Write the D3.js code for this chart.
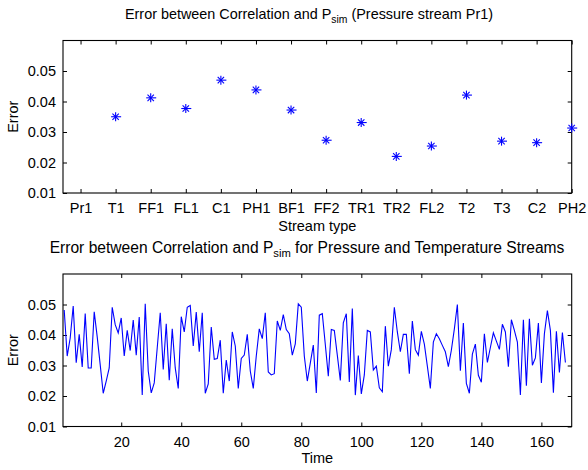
<!DOCTYPE html>
<html>
<head>
<meta charset="utf-8">
<script src="https://cdn.jsdelivr.net/npm/d3@7/dist/d3.min.js"></script>
<style>
  html, body { margin: 0; padding: 0; background: #fff; }
  svg { display: block; }
  text { font-family: "Liberation Sans", Arial, Helvetica, sans-serif; fill: #000; }
</style>
</head>
<body>
<svg id="chart" width="588" height="470"></svg>
<script>
// ---------- data ----------
const streamTypes = ["Pr1","T1","FF1","FL1","C1","PH1","BF1","FF2","TR1","TR2","FL2","T2","T3","C2","PH2"];
const streamError = [null,0.0350,0.0412,0.0377,0.0470,0.0438,0.0372,0.0273,0.0331,0.0220,0.0254,0.0421,0.0270,0.0265,0.0313];
const errorTicks = [0.01,0.02,0.03,0.04,0.05];
const timeTicks = [20,40,60,80,100,120,140,160];
const timeError = [
  0.0482,0.0331,0.0390,0.0495,0.0309,0.0402,0.0295,0.0470,0.0292,0.0292,
  0.0476,0.0394,0.0302,0.0209,0.0249,0.0292,0.0491,0.0434,0.0407,0.0456,
  0.0331,0.0415,0.0349,0.0449,0.0334,0.0459,0.0203,0.0502,0.0282,0.0210,
  0.0243,0.0358,0.0473,0.0287,0.0437,0.0252,0.0420,0.0292,0.0225,0.0460,
  0.0410,0.0491,0.0497,0.0364,0.0475,0.0345,0.0473,0.0209,0.0240,0.0426,
  0.0320,0.0323,0.0383,0.0209,0.0318,0.0249,0.0410,0.0364,0.0225,0.0323,
  0.0334,0.0402,0.0282,0.0225,0.0331,0.0420,0.0388,0.0473,0.0279,0.0269,
  0.0273,0.0446,0.0415,0.0467,0.0418,0.0404,0.0334,0.0371,0.0502,0.0491,
  0.0331,0.0249,0.0308,0.0367,0.0210,0.0465,0.0470,0.0369,0.0265,0.0418,
  0.0415,0.0334,0.0251,0.0440,0.0470,0.0246,0.0487,0.0203,0.0333,0.0207,
  0.0269,0.0415,0.0410,0.0285,0.0298,0.0227,0.0214,0.0429,0.0298,0.0352,
  0.0491,0.0410,0.0345,0.0402,0.0402,0.0273,0.0446,0.0352,0.0334,0.0412,
  0.0370,0.0298,0.0225,0.0377,0.0404,0.0388,0.0366,0.0345,0.0296,0.0350,
  0.0420,0.0500,0.0283,0.0439,0.0241,0.0209,0.0337,0.0370,0.0268,0.0245,
  0.0404,0.0310,0.0359,0.0407,0.0380,0.0353,0.0435,0.0410,0.0296,0.0450,
  0.0415,0.0377,0.0203,0.0450,0.0234,0.0453,0.0301,0.0325,0.0439,0.0243,
  0.0404,0.0480,0.0415,0.0211,0.0412,0.0277,0.0408,0.0310
];

// ---------- layout ----------
const svg = d3.select("#chart");
const L = 63, R = 571.7;
const FS = 14.5;
const blue = "#0000ff";

function frame(g, x, y, xTickVals, xFmt) {
  const [y0, y1] = y.range();
  const [x0, x1] = x.range();
  g.append("g").attr("transform", `translate(${x0},0)`)
    .call(d3.axisLeft(y).tickValues(errorTicks).tickFormat(d3.format(".2f")).tickSizeInner(-4).tickSizeOuter(0).tickPadding(7))
    .call(s => s.select(".domain").remove());
  g.append("g").attr("transform", `translate(${x1},0)`)
    .call(d3.axisRight(y).tickValues(errorTicks).tickFormat("").tickSizeInner(-4).tickSizeOuter(0))
    .call(s => s.select(".domain").remove());
  g.append("g").attr("transform", `translate(0,${y0})`)
    .call(d3.axisBottom(x).tickValues(xTickVals).tickFormat(xFmt).tickSizeInner(-4).tickSizeOuter(0).tickPadding(10))
    .call(s => s.select(".domain").remove());
  g.append("g").attr("transform", `translate(0,${y1})`)
    .call(d3.axisTop(x).tickValues(xTickVals).tickFormat("").tickSizeInner(-4).tickSizeOuter(0))
    .call(s => s.select(".domain").remove());
  g.selectAll(".tick line").attr("stroke", "#000").attr("stroke-width", 1);
  g.selectAll(".tick text").attr("font-size", FS).attr("font-family", "Liberation Sans, Arial, sans-serif").attr("fill", "#000");
  g.append("rect").attr("x", x0).attr("y", y1).attr("width", x1 - x0).attr("height", y0 - y1)
    .attr("fill", "none").attr("stroke", "#000").attr("stroke-width", 1.1);
}

function title(textSel, size, before, after) {
  textSel.attr("font-size", size);
  textSel.append("tspan").text(before);
  textSel.append("tspan").attr("font-size", size * 0.72).attr("dy", 4).text("sim");
  textSel.append("tspan").attr("dy", -4).text(after);
}

// ---------- top plot ----------
const xTop = d3.scaleLinear().domain([0.5, 15]).range([L, R]);
const yTop = d3.scaleLinear().domain([0.01, 0.06]).range([193, 40.5]);
const gTop = svg.append("g");
frame(gTop, xTop, yTop, d3.range(1, streamTypes.length + 1), (d) => streamTypes[d - 1]);

const star = gTop.append("g").selectAll("g")
  .data(streamError.map((v, i) => ({ i: i + 1, v })).filter(d => d.v !== null))
  .join("g")
  .attr("transform", d => `translate(${xTop(d.i)},${yTop(d.v)})`)
  .attr("stroke", blue).attr("stroke-width", 1.1).attr("fill", "none");
star.append("line").attr("x1", -4.5).attr("x2", 5.5).attr("y1", 0).attr("y2", 0);
star.append("line").attr("x1", 0).attr("x2", 0).attr("y1", -4.5).attr("y2", 4.5);
star.append("line").attr("x1", -3.2).attr("x2", 3.2).attr("y1", -3.2).attr("y2", 3.2);
star.append("line").attr("x1", -3.2).attr("x2", 3.2).attr("y1", 3.2).attr("y2", -3.2);

svg.append("text").attr("x", 309).attr("y", 19).attr("text-anchor", "middle")
  .call(t => title(t, 14.4, "Error between Correlation and P", " (Pressure stream Pr1)"));
svg.append("text").attr("x", (L + R) / 2).attr("y", 231).attr("text-anchor", "middle").attr("font-size", FS).text("Stream type");
svg.append("text").attr("transform", `translate(18,${(193 + 40.5) / 2}) rotate(-90)`).attr("text-anchor", "middle").attr("font-size", FS).text("Error");

// ---------- bottom plot ----------
const xBot = d3.scaleLinear().domain([0.6, 170.1]).range([L, R]);
const yBot = d3.scaleLinear().domain([0.01, 0.06]).range([426.5, 274]);
const gBot = svg.append("g");
frame(gBot, xBot, yBot, timeTicks, d3.format("d"));

gBot.append("path")
  .datum(timeError)
  .attr("fill", "none").attr("stroke", blue).attr("stroke-width", 1.1).attr("stroke-linejoin", "miter")
  .attr("d", d3.line().x((d, i) => xBot(i + 1)).y(d => yBot(d)));

svg.append("text").attr("x", 307).attr("y", 253).attr("text-anchor", "middle")
  .call(t => title(t, 15.6, "Error between Correlation and P", " for Pressure and Temperature Streams"));
svg.append("text").attr("x", (L + R) / 2).attr("y", 463).attr("text-anchor", "middle").attr("font-size", FS).text("Time");
svg.append("text").attr("transform", `translate(18,${(426.5 + 274) / 2}) rotate(-90)`).attr("text-anchor", "middle").attr("font-size", FS).text("Error");
</script>
</body>
</html>
